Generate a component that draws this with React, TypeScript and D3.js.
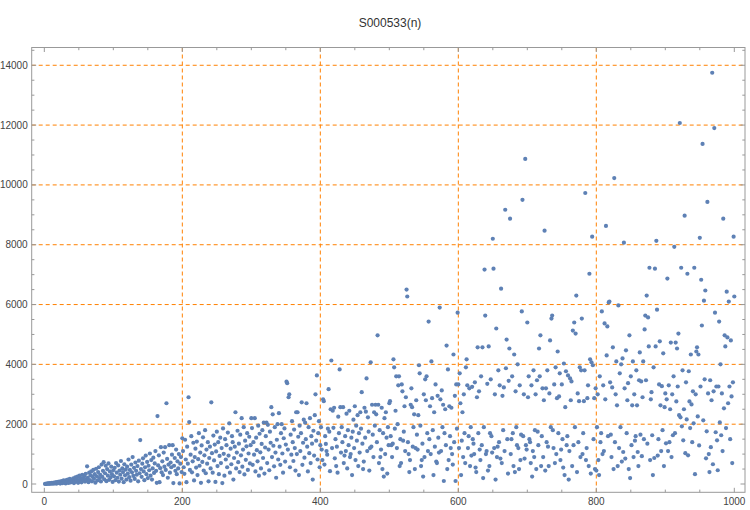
import * as d3 from 'd3';

// S000533(n) for n = 1..1000, 100 values per row group
const n001to100 = [
  2, 8, 5, 15, 10, 22, 6, 30, 18, 12, 40, 25, 9, 48, 33, 20, 60, 14, 45, 70,
  35, 80, 15, 55, 100, 28, 70, 120, 45, 90, 20, 130, 60, 150, 38, 105, 170, 50, 85, 140,
  65, 190, 30, 110, 220, 75, 160, 250, 40, 135, 280, 95, 200, 55, 310, 175, 120, 260, 80, 340,
  150, 590, 210, 60, 380, 130, 290, 420, 90, 240, 470, 175, 330, 45, 510, 260, 120, 400, 560, 200,
  310, 85, 650, 240, 440, 730, 160, 360, 610, 95, 500, 280, 690, 140, 420, 220, 580, 330, 70, 460,
];
const n101to200 = [
  260, 540, 130, 700, 380, 210, 620, 80, 450, 310, 770, 180, 520, 400, 60, 660, 290, 480, 150, 580,
  350, 820, 230, 470, 110, 650, 390, 900, 270, 540, 170, 720, 440, 310, 600, 90, 780, 360, 1470, 500,
  240, 680, 860, 420, 130, 560, 950, 330, 740, 200, 610, 460, 1020, 280, 800, 150, 520, 880, 370, 690,
  1100, 440, 40, 2270, 620, 960, 60, 530, 1230, 390, 760, 300, 1050, 580, 1230, 470, 2700, 840, 210, 650,
  1300, 380, 720, 560, 980, 1300, 30, 610, 870, 440, 1150, 330, 760, 520, 1000, 20, 680, 900, 400, 1530,
];
const n201to300 = [
  1100, 560, 340, 1480, 820, 60, 1250, 680, 2900, 2070, 470, 980, 1600, 390, 760, 1380, 120, 900, 1180, 550,
  1420, 300, 830, 1700, 610, 1050, 40, 1290, 740, 1560, 450, 960, 1800, 360, 1150, 680, 1400, 90, 870, 1250,
  520, 2730, 1030, 380, 1620, 790, 1320, 70, 1090, 1750, 600, 1400, 330, 940, 1550, 700, 1200, 30, 1860, 1010,
  280, 1500, 820, 1300, 560, 1720, 950, 2030, 380, 1180, 660, 1600, 1400, 150, 870, 1250, 2400, 520, 1050, 1780,
  730, 1350, 400, 1650, 960, 2200, 580, 1150, 1900, 320, 1450, 810, 1260, 1700, 470, 1020, 1580, 690, 1300, 2200,
];
const n301to400 = [
  1870, 640, 1400, 980, 2200, 420, 1550, 1130, 760, 1950, 280, 1680, 1060, 520, 1340, 1800, 870, 2050, 350, 1220,
  1600, 2050, 700, 1980, 1150, 460, 1750, 1380, 2570, 900, 2330, 1280, 590, 1900, 1050, 210, 1480, 2000, 820, 2370,
  1250, 640, 1700, 2000, 1020, 380, 1530, 1860, 750, 1320, 3420, 3370, 1150, 2900, 3000, 560, 1650, 980, 2100, 1400,
  770, 1820, 1200, 450, 2400, 1000, 2400, 1580, 300, 1950, 1100, 1700, 2730, 640, 1380, 2150, 880, 2050, 1500, 2700,
  1250, 420, 1900, 1030, 2200, 700, 1600, 1350, 150, 1780, 950, 2300, 3000, 1450, 3630, 820, 1700, 2100, 560, 1300,
];
const n401to500 = [
  1900, 1150, 800, 2830, 2770, 650, 1600, 1340, 1100, 980, 1850, 3170, 1750, 430, 2500, 4130, 1200, 2450, 1880, 2550,
  860, 1500, 600, 1250, 380, 2250, 1700, 3830, 2570, 1050, 1900, 1400, 2570, 700, 950, 1600, 1100, 2350, 520, 1800,
  1300, 2450, 900, 1000, 1550, 300, 1750, 2150, 1200, 2600, 800, 1950, 1450, 2300, 600, 1700, 1050, 2400, 1850, 3070,
  1350, 500, 750, 2550, 1550, 2420, 3530, 1100, 2230, 1750, 450, 1200, 4070, 1250, 2650, 1650, 900, 2400, 1950, 2650,
  2330, 1400, 4970, 2650, 700, 1800, 900, 1150, 2550, 500, 1700, 250, 2200, 1000, 2400, 1550, 350, 1900, 1300, 2700,
];
const n501to600 = [
  2770, 1600, 1300, 900, 1350, 4170, 3900, 1850, 2450, 3600, 1200, 2000, 3300, 3600, 600, 1500, 700, 3330, 3100, 1450,
  1750, 2600, 1100, 2900, 6500, 6270, 1400, 1000, 400, 800, 2650, 3200, 2570, 1250, 1900, 2330, 500, 1200, 2800, 1650,
  1150, 2300, 3970, 3700, 1950, 600, 800, 1350, 250, 3000, 900, 3500, 2800, 3600, 1700, 1100, 5430, 1500, 2600, 1000,
  4100, 2870, 1800, 300, 2400, 1250, 3330, 750, 700, 2950, 1550, 1050, 5900, 2830, 1100, 3130, 1900, 2650, 100, 1700,
  2500, 1300, 4630, 500, 3830, 800, 2600, 1600, 1200, 2550, 1000, 650, 4330, 1400, 2950, 100, 3330, 1850, 5730, 3330,
];
const n601to700 = [
  1200, 3700, 2700, 300, 1450, 2400, 900, 3000, 1700, 700, 3900, 4170, 3300, 1200, 1600, 3200, 600, 1900, 950, 3250,
  1500, 1350, 1000, 3400, 550, 400, 2900, 4570, 1700, 3100, 1150, 800, 3600, 1300, 4570, 200, 1900, 7170, 5630, 1000,
  1100, 3350, 450, 4600, 600, 1700, 3500, 1600, 1050, 8200, 7200, 1200, 3000, 150, 5200, 900, 1250, 3800, 1400, 3300,
  850, 6530, 700, 2950, 1800, 3230, 1100, 9170, 3870, 4830, 1500, 350, 3450, 4530, 8870, 1000, 1500, 3600, 1700, 600,
  4330, 400, 3100, 1900, 1300, 4000, 1200, 500, 3300, 800, 1650, 5770, 9500, 1600, 3000, 850, 10870, 1300, 1150, 5400,
];
const n701to800 = [
  2900, 3600, 1500, 1400, 700, 3300, 250, 1100, 3800, 900, 1800, 3000, 500, 3470, 1750, 1300, 4530, 3600, 4970, 600,
  1600, 3200, 900, 2800, 8470, 450, 3200, 1400, 3800, 1250, 600, 3030, 4800, 1900, 5530, 5630, 1800, 1200, 3330, 700,
  3900, 1000, 2870, 4430, 1700, 2930, 3700, 800, 1150, 3330, 1500, 550, 4030, 300, 2570, 3770, 1300, 1600, 3630, 150,
  1100, 3530, 2800, 3430, 600, 5130, 1300, 5400, 1900, 5030, 6300, 400, 3030, 1400, 2770, 3900, 900, 3800, 5530, 1000,
  1700, 2770, 3800, 9730, 800, 1200, 2870, 3300, 600, 7030, 4170, 350, 4070, 8270, 3970, 1500, 2870, 500, 3200, 450,
];
const n801to900 = [
  1900, 3000, 800, 300, 3600, 1400, 1700, 5770, 1000, 3300, 1100, 5370, 2830, 8630, 4300, 5270, 1600, 6070, 6100, 3400,
  1650, 900, 3230, 4570, 500, 10230, 1400, 3000, 4100, 2630, 600, 5970, 1200, 3700, 1900, 4000, 750, 4200, 1070, 8070,
  3200, 850, 4470, 1700, 2800, 3370, 500, 4970, 200, 3600, 1300, 2630, 4100, 900, 3000, 1450, 1600, 3800, 2630, 1070,
  600, 3470, 4400, 1650, 3430, 930, 2900, 4100, 1500, 5170, 5630, 3470, 6300, 1350, 5570, 4600, 7230, 800, 2830, 3070,
  1630, 300, 3900, 870, 7200, 4600, 8130, 5830, 950, 1500, 3330, 4770, 2630, 1100, 3270, 1800, 4370, 600, 2570, 3030,
];
const n901to1000 = [
  1360, 2830, 6870, 1100, 3300, 1400, 2500, 4730, 900, 3000, 1630, 3600, 7930, 1700, 4730, 2760, 4530, 3260, 5030, 2300,
  12070, 2230, 7230, 1930, 3800, 1460, 2500, 8970, 1030, 3400, 2160, 7030, 960, 3770, 2760, 1870, 4330, 2660, 1400, 3100,
  2030, 7230, 330, 3000, 4430, 4570, 2260, 4330, 1290, 8230, 3260, 6830, 5300, 11370, 2130, 6130, 3500, 6470, 860, 1760,
  9430, 3030, 1000, 400, 3470, 1230, 2800, 13750, 660, 3100, 11900, 5730, 1730, 3260, 1460, 460, 3260, 5430, 2060, 4000,
  1630, 3030, 1100, 8870, 2530, 4970, 4600, 1870, 6430, 4900, 2700, 6100, 3260, 1500, 4800, 2930, 700, 3400, 8270, 6270,
];

const values = [
  ...n001to100, ...n101to200, ...n201to300, ...n301to400, ...n401to500,
  ...n501to600, ...n601to700, ...n701to800, ...n801to900, ...n901to1000,
];

const xTickLabels = [0, 200, 400, 600, 800, 1000];
const yTickLabels = [0, 2000, 4000, 6000, 8000, 10000, 12000, 14000];
const xGridLines = [200, 400, 600, 800];
const yGridLines = [2000, 4000, 6000, 8000, 10000, 12000, 14000];

const title = 'S000533(n)';

export default function App() {
  const width = 750;
  const height = 510;
  const frame = { left: 31.7, right: 745, top: 47.5, bottom: 492.3 };

  const x = d3.scaleLinear().domain([-18.3, 1015.5]).range([frame.left, frame.right]);
  const y = d3.scaleLinear().domain([-277, 14594]).range([frame.bottom, frame.top]);

  const xMinor = d3.range(0, 1001, 50).filter((d) => d % 200 !== 0);
  const yMinor = d3.range(0, 14501, 500).filter((d) => d % 2000 !== 0);

  const frameColor = '#999';
  const gridColor = '#ff8000';
  const labelFont = '"Liberation Sans", Arial, sans-serif';
  const majorLen = 4.5;
  const minorLen = 2.7;

  return (
    <div style={{ position: 'fixed', left: 0, top: 0 }}>
      <svg width={width} height={height} style={{ display: 'block', background: '#fff' }}>
        <text
          x={390}
          y={27}
          textAnchor="middle"
          fontFamily={labelFont}
          fontSize={12}
          fill="#333"
        >
          {title}
        </text>

        {/* gridlines */}
        <g stroke={gridColor} strokeWidth={1} strokeDasharray="4,3">
          {xGridLines.map((d) => (
            <line key={`gx${d}`} x1={x(d)} x2={x(d)} y1={frame.top} y2={frame.bottom} />
          ))}
          {yGridLines.map((d) => (
            <line key={`gy${d}`} x1={frame.left} x2={frame.right} y1={y(d)} y2={y(d)} />
          ))}
        </g>

        {/* points */}
        <g fill="#5e81b5">
          {values.map((v, i) => (
            <circle key={i} cx={x(i + 1)} cy={y(v)} r={2.1} />
          ))}
        </g>

        {/* frame + ticks */}
        <g stroke={frameColor} strokeWidth={1} fill="none">
          <rect
            x={frame.left}
            y={frame.top}
            width={frame.right - frame.left}
            height={frame.bottom - frame.top}
          />
          {xTickLabels.map((d) => (
            <g key={`xt${d}`}>
              <line x1={x(d)} x2={x(d)} y1={frame.bottom} y2={frame.bottom - majorLen} />
              <line x1={x(d)} x2={x(d)} y1={frame.top} y2={frame.top + majorLen} />
            </g>
          ))}
          {xMinor.map((d) => (
            <g key={`xm${d}`}>
              <line x1={x(d)} x2={x(d)} y1={frame.bottom} y2={frame.bottom - minorLen} />
              <line x1={x(d)} x2={x(d)} y1={frame.top} y2={frame.top + minorLen} />
            </g>
          ))}
          {yTickLabels.map((d) => (
            <g key={`yt${d}`}>
              <line x1={frame.left} x2={frame.left + majorLen} y1={y(d)} y2={y(d)} />
              <line x1={frame.right} x2={frame.right - majorLen} y1={y(d)} y2={y(d)} />
            </g>
          ))}
          {yMinor.map((d) => (
            <g key={`ym${d}`}>
              <line x1={frame.left} x2={frame.left + minorLen} y1={y(d)} y2={y(d)} />
              <line x1={frame.right} x2={frame.right - minorLen} y1={y(d)} y2={y(d)} />
            </g>
          ))}
        </g>

        {/* tick labels */}
        <g fontFamily={labelFont} fontSize={10} fill="#444">
          {xTickLabels.map((d) => (
            <text key={`xl${d}`} x={x(d)} y={frame.bottom + 13} textAnchor="middle">
              {d}
            </text>
          ))}
          {yTickLabels.map((d) => (
            <text key={`yl${d}`} x={frame.left - 4} y={y(d) + 3.5} textAnchor="end">
              {d}
            </text>
          ))}
        </g>
      </svg>
    </div>
  );
}
